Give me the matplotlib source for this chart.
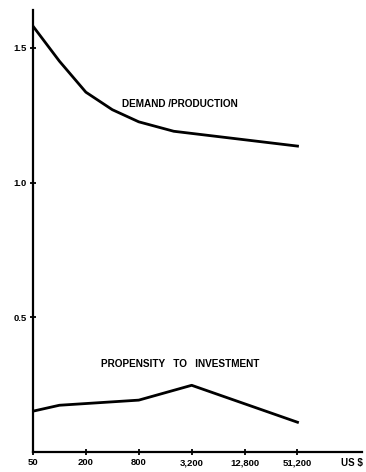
import matplotlib
matplotlib.use('Agg')
import matplotlib.pyplot as plt

# Income per capita (US $) and the two ratios
income_demand = [50, 100, 200, 400, 800, 2000, 51200]
demand_production = [1.58, 1.45, 1.335, 1.27, 1.225, 1.19, 1.135]

income_invest = [50, 100, 800, 3200, 51200]
propensity_invest = [0.152, 0.174, 0.193, 0.248, 0.111]

xticks = [50, 200, 800, 3200, 12800, 51200]
xtick_labels = ['50', '200', '800', '3,200', '12,800', '51,200']
yticks = [0.5, 1.0, 1.5]
ytick_labels = ['0.5', '1.0', '1.5']

plt.rcParams['font.family'] = ['Liberation Sans', 'DejaVu Sans']

fig = plt.figure(figsize=(3.66, 4.72), dpi=100)
ax = fig.add_axes([0.090, 0.042, 0.900, 0.937])

ax.plot(income_demand, demand_production, color='black', linewidth=2.0,
        solid_joinstyle='round')
ax.plot(income_invest, propensity_invest, color='black', linewidth=2.0,
        solid_joinstyle='round')

ax.set_xscale('log')
ax.set_xlim(50, 280000)
ax.set_ylim(0, 1.64)

ax.set_xticks(xticks)
ax.set_xticklabels(xtick_labels, fontsize=6.8, fontweight='bold')
ax.minorticks_off()
ax.set_yticks(yticks)
ax.set_yticklabels(ytick_labels, fontsize=6.8, fontweight='bold')
ax.tick_params(direction='inout', length=5, width=1.3, pad=2)

for side in ['top', 'right']:
    ax.spines[side].set_visible(False)
for side in ['left', 'bottom']:
    ax.spines[side].set_linewidth(1.6)

ax.text(520, 1.29, 'DEMAND /PRODUCTION', fontsize=7.2, fontweight='bold',
        ha='left', va='center')
ax.text(300, 0.326, 'PROPENSITY   TO   INVESTMENT', fontsize=7.2, fontweight='bold',
        ha='left', va='center')
ax.text(160000, -0.022, 'US $', fontsize=7, fontweight='bold',
        ha='left', va='top', clip_on=False)

fig.savefig('out.png', dpi=100)
